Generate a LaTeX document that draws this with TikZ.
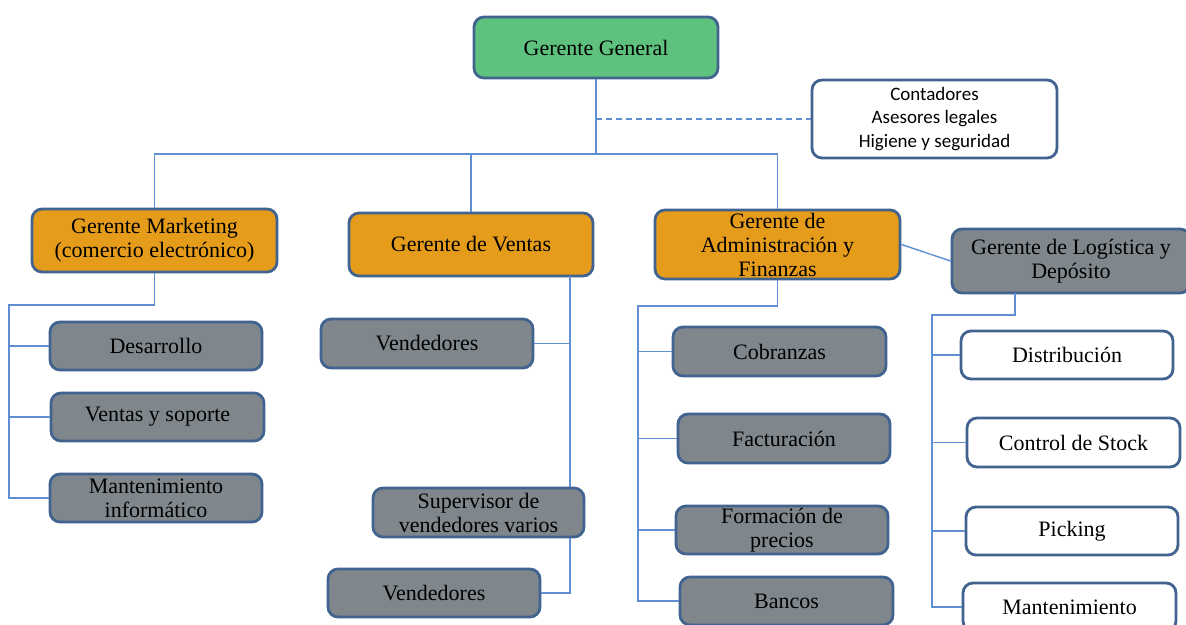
\documentclass[tikz,border=0pt]{standalone}
\usepackage{fontspec}
\setmainfont{Liberation Serif}
\newfontfamily\calib{Carlito}
\definecolor{bordc}{HTML}{41638F}
\definecolor{linec}{HTML}{5F8FD2}
\definecolor{greenc}{HTML}{5EC27E}
\definecolor{orangec}{HTML}{E59C1B}
\definecolor{greyc}{HTML}{7F878C}
\begin{document}
\begin{tikzpicture}[x=0.5pt,y=-0.5pt,
  bx/.style={draw=bordc,line width=1.4pt,rounded corners=5pt,align=center,inner sep=0pt,
    font=\fontsize{11}{12}\selectfont},
  gr/.style={bx,fill=greenc},
  og/.style={bx,fill=orangec},
  gy/.style={bx,fill=greyc},
  wh/.style={bx,fill=white},
  conn/.style={draw=linec,line width=0.7pt},
  dconn/.style={conn,dash pattern=on 3pt off 2pt}]
\useasboundingbox (0,0) rectangle (1186,625);
\clip (0,0) rectangle (1186,625);
% nodes
\node[gr,minimum width=122pt,minimum height=30.5pt] (gg) at (596,47.5) {Gerente General};
\node[wh,minimum width=122.5pt,minimum height=39pt,font=\calib\fontsize{9.5}{11.75}\selectfont] (cont) at (934.5,119) {Contadores\\Asesores legales\\Higiene y seguridad};
\node[og,minimum width=122.5pt,minimum height=31.5pt] (mk) at (154.5,240.5) {Gerente Marketing\\(comercio electrónico)};
\node[og,minimum width=122pt,minimum height=31.5pt] (ve) at (471,244.5) {Gerente de Ventas};
\node[og,minimum width=122.5pt,minimum height=34.5pt] (ad) at (777.5,244.5) {Gerente de\\Administración y\\Finanzas};
\node[gy,minimum width=119pt,minimum height=32pt] (lo) at (1071,261) {Gerente de Logística y\\Depósito};
\node[gy,minimum width=106pt,minimum height=24pt] (de) at (156,346) {Desarrollo};
\node[gy,minimum width=106.5pt,minimum height=24pt] (vs) at (157.5,417) {Ventas y soporte};
\node[gy,minimum width=106pt,minimum height=24pt] (mi) at (156,498) {Mantenimiento\\informático};
\node[gy,minimum width=106pt,minimum height=24.5pt] (v1) at (427,343.5) {Vendedores};
\node[gy,minimum width=105.5pt,minimum height=24.5pt] (su) at (478.5,512.5) {Supervisor de\\vendedores varios};
\node[gy,minimum width=106pt,minimum height=24pt] (v2) at (434,593) {Vendedores};
\node[gy,minimum width=106.5pt,minimum height=24.5pt] (co) at (779.5,351.5) {Cobranzas};
\node[gy,minimum width=106pt,minimum height=24.5pt] (fa) at (784,438.5) {Facturación};
\node[gy,minimum width=106pt,minimum height=24pt] (fp) at (782,530) {Formación de\\precios};
\node[gy,minimum width=106.5pt,minimum height=24pt] (ba) at (786.5,601) {Bancos};
\node[wh,minimum width=106pt,minimum height=24pt] (di) at (1067,355) {Distribución};
\node[wh,minimum width=106.5pt,minimum height=24.5pt] (cs) at (1073.5,442.5) {Control de Stock};
\node[wh,minimum width=106pt,minimum height=24pt] (pi) at (1072,531) {Picking};
\node[wh,minimum width=106.5pt,minimum height=24pt] (ma) at (1069.5,607) {Mantenimiento};
% top connectors
\coordinate (j0) at (600,154);
\draw[conn] (gg.south) -- (gg.south |- j0);
\draw[conn] (mk.north) |- (ad.north |- j0) -- (ad.north);
\draw[conn] (ve.north) -- (ve.north |- j0);
\draw[dconn] (gg.south |- cont.west) -- (cont.west);
\draw[conn] (ad.east) -- (lo.west);
% marketing
\coordinate (mkL) at (9,305);
\draw[conn] (mk.south) |- (mkL) |- (mi.west);
\draw[conn] (mkL |- de.west) -- (de.west);
\draw[conn] (mkL |- vs.west) -- (vs.west);
% ventas
\coordinate (vx) at (570,276);
\draw[conn] (vx) -- (vx |- su.north);
\draw[conn] (v1.east) -- (vx |- v1.east);
\draw[conn] (vx |- su.south) -- (vx |- v2.east) -- (v2.east);
% administracion
\coordinate (adL) at (638,306);
\draw[conn] (ad.south) |- (adL) |- (ba.west);
\draw[conn] (adL |- co.west) -- (co.west);
\draw[conn] (adL |- fa.west) -- (fa.west);
\draw[conn] (adL |- fp.west) -- (fp.west);
% logistica
\coordinate (lox) at (1015,293);
\coordinate (loL) at (932,315);
\draw[conn] (lox) |- (loL) |- (ma.west);
\draw[conn] (loL |- di.west) -- (di.west);
\draw[conn] (loL |- cs.west) -- (cs.west);
\draw[conn] (loL |- pi.west) -- (pi.west);
\end{tikzpicture}
\end{document}
